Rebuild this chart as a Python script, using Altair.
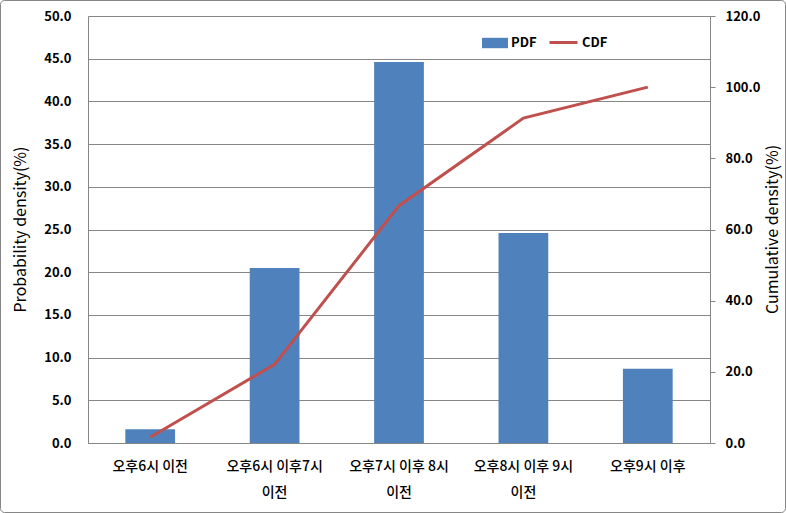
import altair as alt
import pandas as pd

categories = ["오후6시 이전", "오후6시 이후7시\n이전", "오후7시 이후 8시\n이전", "오후8시 이후 9시\n이전", "오후9시 이후"]
pdf_values = [1.6, 20.5, 44.6, 24.6, 8.7]
cdf_values = [1.6, 22.1, 66.7, 91.3, 100.0]
left_ticks = [0, 5, 10, 15, 20, 25, 30, 35, 40, 45, 50]
right_ticks = [0, 20, 40, 60, 80, 100, 120]

df = pd.DataFrame({
    "category": categories,
    "PDF": pdf_values,
    "CDF": cdf_values,
    "pdf_series": ["PDF"] * len(categories),
    "cdf_series": ["CDF"] * len(categories),
})

FONT = "Noto Sans CJK KR"
GRAY = "#868686"
BLUE = "#4F81BD"
RED = "#C0504D"

x = alt.X(
    "category:N",
    sort=categories,
    scale=alt.Scale(paddingInner=0.6, paddingOuter=0.3),
    axis=alt.Axis(
        title=None, labelAngle=0, labelExpr="split(datum.label, '\\n')",
        labelFontSize=14, labelFontWeight=500, labelPadding=16,
        labelLineHeight=26, tickSize=0, domainColor=GRAY, labelColor="black",
        labelFont=FONT,
    ),
)

bars = alt.Chart(df).mark_bar().encode(
    x=x,
    y=alt.Y(
        "PDF:Q",
        scale=alt.Scale(domain=[0, 50], nice=False),
        axis=alt.Axis(
            values=left_ticks, format=".1f", title="Probability density(%)",
            grid=True, gridColor=GRAY, tickSize=0, labelPadding=17,
            labelFont=FONT, labelFontSize=13, labelFontWeight="bold",
            labelColor="black", domainColor=GRAY,
            titleFont=FONT, titleFontSize=16, titleFontWeight="normal",
            titleX=-68, titleY=213, titleAngle=270, titleAlign="center",
            titleBaseline="middle", titleColor="black",
        ),
    ),
    fill=alt.Fill(
        "pdf_series:N",
        scale=alt.Scale(domain=["PDF"], range=[BLUE]),
        legend=alt.Legend(
            title=None, orient="none", legendX=394, legendY=14,
            symbolType="M-1,-0.4H1V0.4H-1Z", symbolSize=676,
            symbolStrokeWidth=0, labelOffset=3,
            labelFont=FONT, labelFontSize=13, labelFontWeight="bold",
            labelColor="black",
        ),
    ),
)

line = alt.Chart(df).mark_line(strokeWidth=3).encode(
    x=x,
    y=alt.Y(
        "CDF:Q",
        scale=alt.Scale(domain=[0, 120], nice=False),
        axis=alt.Axis(
            orient="right", values=right_ticks, format=".1f",
            title="Cumulative density(%)", grid=False, tickSize=5,
            tickColor=GRAY, labelPadding=10,
            labelFont=FONT, labelFontSize=13, labelFontWeight="bold",
            labelColor="black", domainColor=GRAY,
            titleFont=FONT, titleFontSize=16, titleFontWeight="normal",
            titleX=62, titleY=213, titleAngle=270, titleAlign="center",
            titleBaseline="middle", titleColor="black",
        ),
    ),
    stroke=alt.Stroke(
        "cdf_series:N",
        scale=alt.Scale(domain=["CDF"], range=[RED]),
        legend=alt.Legend(
            title=None, orient="none", legendX=460, legendY=11,
            symbolType="stroke", symbolSize=784, symbolStrokeWidth=3,
            labelOffset=3,
            labelFont=FONT, labelFontSize=13, labelFontWeight="bold",
            labelColor="black",
        ),
    ),
)

border = alt.Chart(pd.DataFrame({"k": [0]})).mark_rect(
    fillOpacity=0, stroke=GRAY, strokeWidth=1, clip=False, cornerRadius=4
).encode(
    x=alt.value(-87.5), x2=alt.value(697.5),
    y=alt.value(-15.5), y2=alt.value(496.5),
)

chart = alt.layer(bars, line, border).resolve_scale(
    y="independent"
).properties(
    width=622, height=427,
    autosize=alt.AutoSizeParams(type="none"),
    padding={"left": 88, "top": 16, "right": 76, "bottom": 70},
).configure_view(stroke=None).configure(background="white")

chart.save("out.html", embed_options={"renderer": "svg", "actions": False})
